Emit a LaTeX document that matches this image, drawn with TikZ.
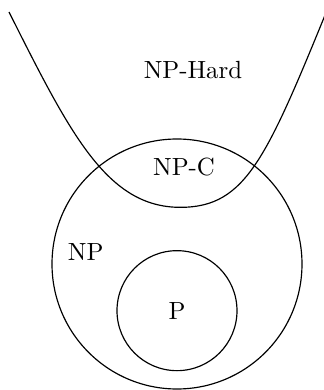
\documentclass[tikz,border=0pt]{standalone}
\usepackage{tikz}
\usetikzlibrary{positioning}
\tikzset{
  region/.style={draw=black, line width=0.5pt},
  setlabel/.style={inner sep=1pt, font=\fontsize{10.6}{12}\selectfont}
}
\begin{document}
\begin{tikzpicture}
\useasboundingbox (-2.655,-1.89) rectangle (2.205,3.96);
\begin{scope}
\clip (-2.655,-1.89) rectangle (2.205,3.96);
% NP-Hard bowl
\draw[region] (-2.52,3.78) .. controls (-1.6,1.95) and (-1.05,0.85) .. (0.05,0.85)
  .. controls (1.05,0.85) and (1.35,1.6) .. (2.35,4.05);
\end{scope}
% NP and P
\coordinate (npc) at (0,0);
\coordinate (pc) at (0,-0.7);
\draw[region] (npc) circle (1.875);
\draw[region] (pc) circle (0.9);
\node[setlabel] (hard) at (0.24,2.91) {NP-Hard};
\node[setlabel] (npcomp) at (0.105,1.455) {NP-C};
\node[setlabel] (np) at (-1.37,0.18) {NP};
\node[setlabel] (p) at (pc) {P};
\end{tikzpicture}
\end{document}
